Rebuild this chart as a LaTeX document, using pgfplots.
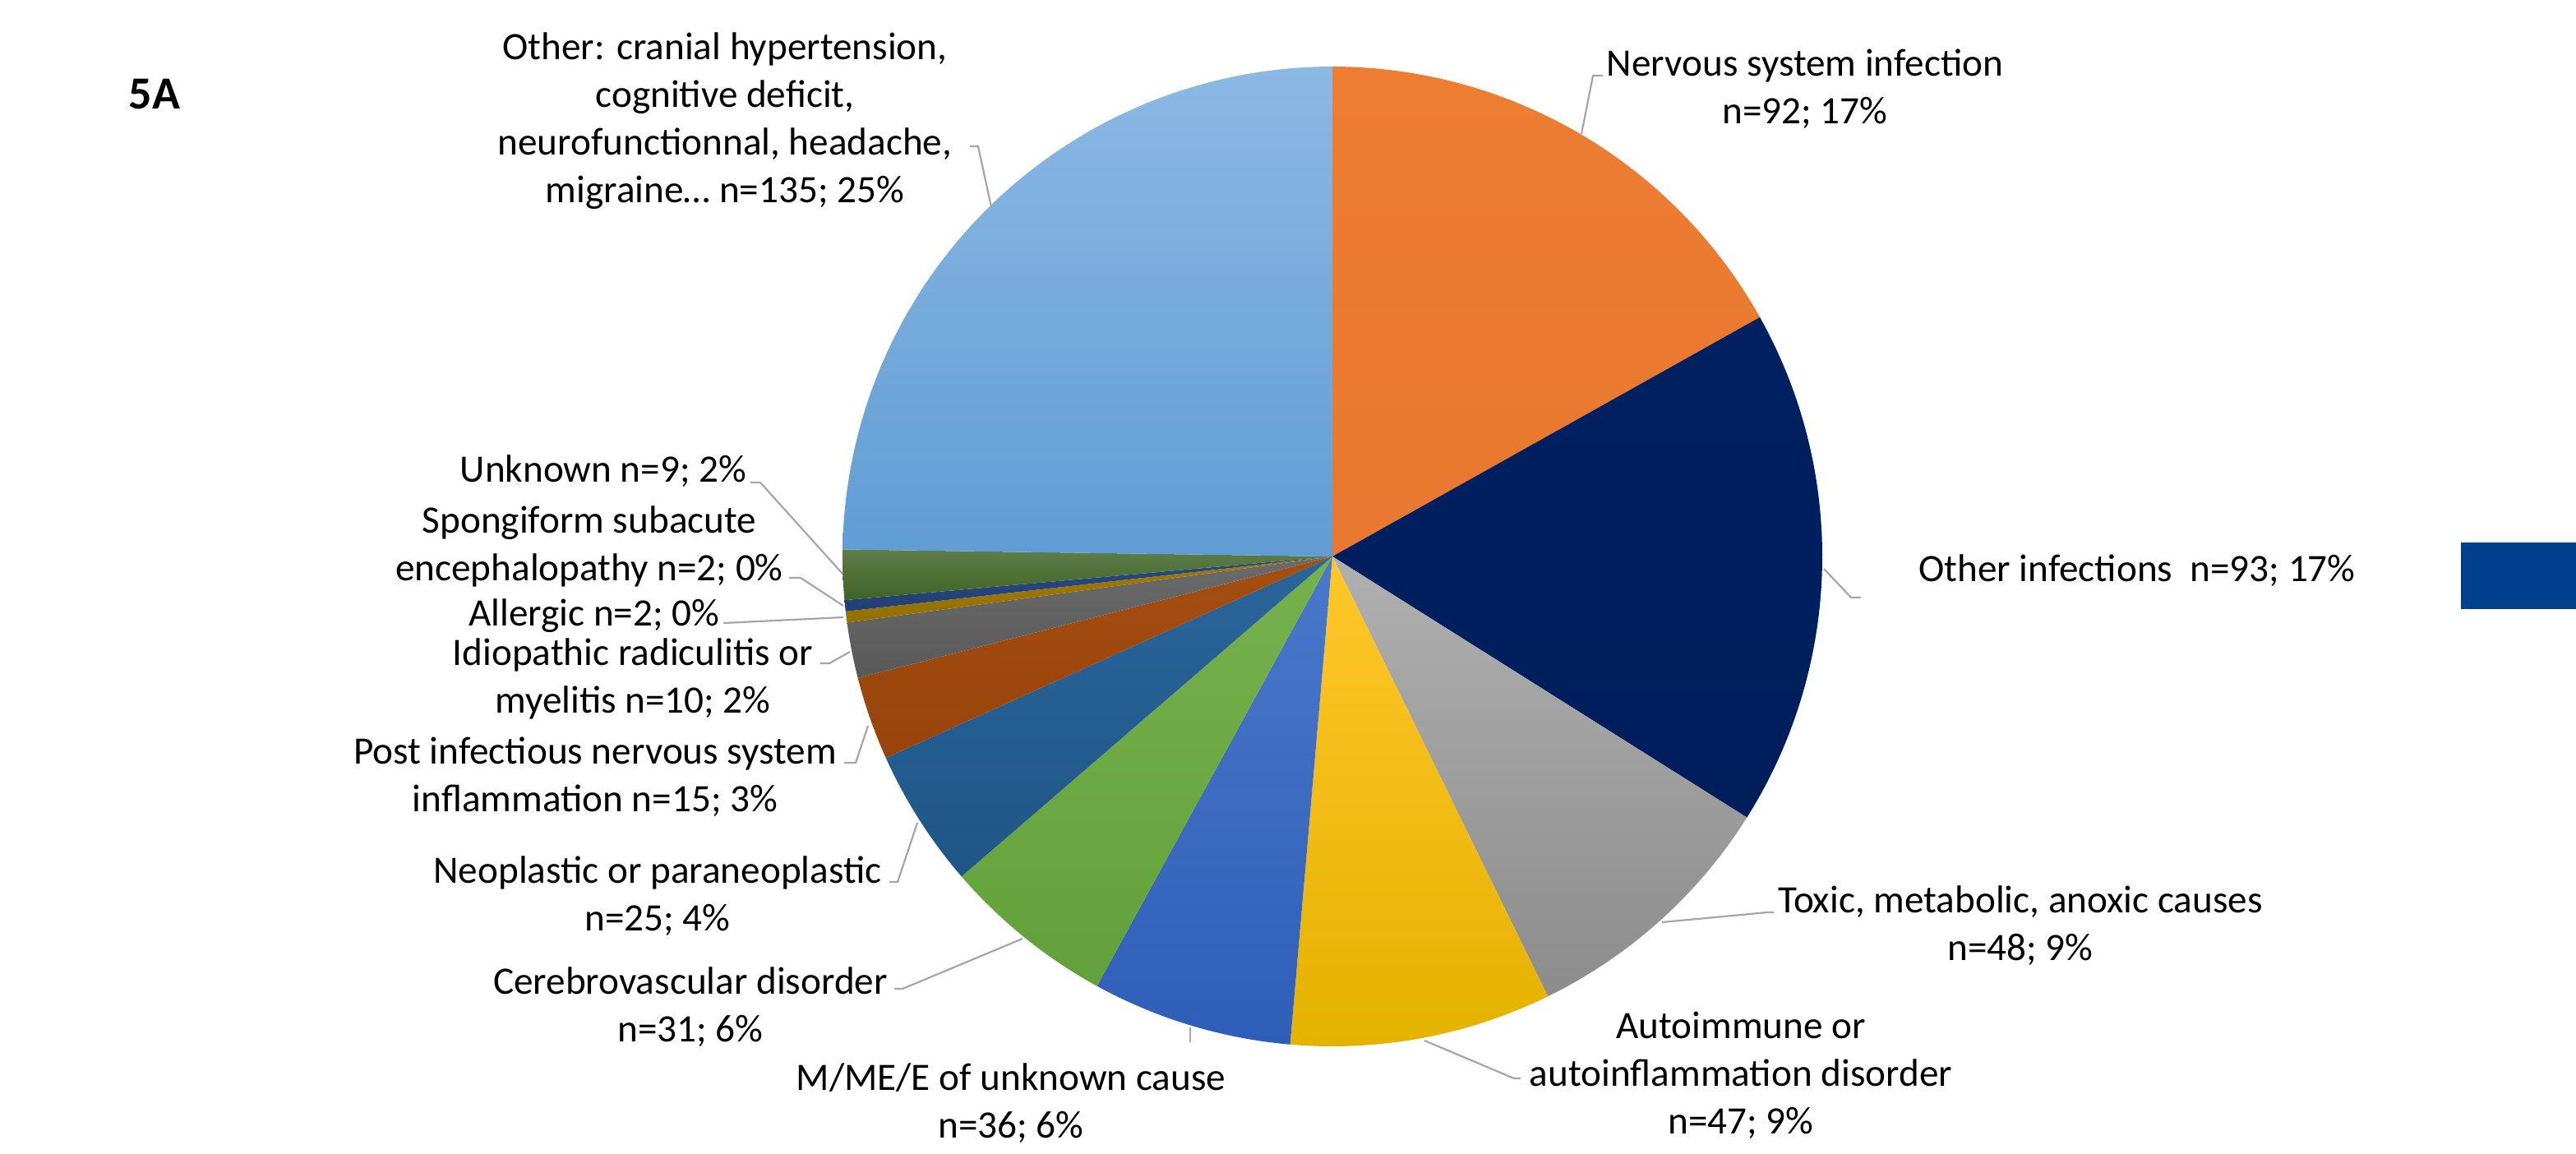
\documentclass[border=0pt]{standalone}
\usepackage{pgfplots}
\usepackage{pgfplotstable}
\pgfplotsset{compat=1.18}
\usepackage{fontspec}
\setmainfont{Carlito}

\definecolor{s1t}{HTML}{ED7D31}\definecolor{s1b}{HTML}{E97830}
\definecolor{s2t}{HTML}{002060}\definecolor{s2b}{HTML}{001E5C}
\definecolor{s3t}{HTML}{B0B0B0}\definecolor{s3b}{HTML}{8C8C8C}
\definecolor{s4t}{HTML}{FFC72A}\definecolor{s4b}{HTML}{E4B200}
\definecolor{s5t}{HTML}{4A78CA}\definecolor{s5b}{HTML}{2F5EB8}
\definecolor{s6t}{HTML}{76B24C}\definecolor{s6b}{HTML}{62A13A}
\definecolor{s7t}{HTML}{2A659A}\definecolor{s7b}{HTML}{1F5687}
\definecolor{s8t}{HTML}{A54E12}\definecolor{s8b}{HTML}{98430A}
\definecolor{s9t}{HTML}{6B6B6B}\definecolor{s9b}{HTML}{595959}
\definecolor{s10t}{HTML}{A17A05}\definecolor{s10b}{HTML}{947000}
\definecolor{s11t}{HTML}{2A4A80}\definecolor{s11b}{HTML}{223F72}
\definecolor{s12t}{HTML}{5E7E4A}\definecolor{s12b}{HTML}{3E6326}
\definecolor{s13t}{HTML}{8CB8E4}\definecolor{s13b}{HTML}{609DD4}
\definecolor{leader}{HTML}{A6A6A6}
\definecolor{keyblue}{HTML}{003F8C}

\newcommand\lf{\fontsize{11.8}{14.5}\selectfont}

\pgfplotstableread{
n col
92 s1
93 s2
48 s3
47 s4
36 s5
31 s6
25 s7
15 s8
10 s9
2 s10
2 s11
9 s12
135 s13
}\piedata

\begin{document}
\begin{tikzpicture}
\begin{axis}[
  width=783.5pt, height=350.75pt, scale only axis,
  xmin=0, xmax=3134, ymin=0, ymax=1403, y dir=reverse,
  hide axis, clip=false,
]
\pgfplotstablegetrowsof{\piedata}
\pgfmathtruncatemacro\nrows{\pgfplotsretval-1}
\def\tot{0}
\pgfplotsforeachungrouped \i in {0,...,\nrows}{%
  \pgfplotstablegetelem{\i}{n}\of\piedata
  \pgfmathsetmacro\tot{\tot+\pgfplotsretval}%
}
\def\cum{0}
\pgfplotsforeachungrouped \i in {0,...,\nrows}{%
  \pgfplotstablegetelem{\i}{n}\of\piedata \let\nval\pgfplotsretval
  \pgfplotstablegetelem{\i}{col}\of\piedata \let\cval\pgfplotsretval
  \pgfmathsetmacro\a{360*(\cum/\tot)}%
  \pgfmathsetmacro\cum{\cum+\nval}%
  \pgfmathsetmacro\b{360*(\cum/\tot)}%
  \edef\temp{\noexpand\addplot[draw=none, top color=\cval t, bottom color=\cval b, domain=\a:\b, samples=90] ({1621+596*sin(x)},{677-596*cos(x)}) -- (axis cs:1621,677) -- cycle;}%
  \temp
}

% legend key fragment
\fill[keyblue] (axis cs:2994,660) rectangle (axis cs:3134,741);

% panel label
\node[font=\fontsize{14}{16}\selectfont\bfseries, inner sep=0pt] at (axis cs:188,115) {5A};

% leader lines
\begin{scope}[leader, line width=0.55pt]
\draw (axis cs:1180,178) -- (axis cs:1190,178) -- (axis cs:1206,252);
\draw (axis cs:1950,92) -- (axis cs:1938,92) -- (axis cs:1924,163);
\draw (axis cs:2219,692) -- (axis cs:2252,727) -- (axis cs:2264,727);
\draw (axis cs:2022,1122) -- (axis cs:2150,1110) -- (axis cs:2158,1110);
\draw (axis cs:1733,1266) -- (axis cs:1842,1312) -- (axis cs:1850,1312);
\draw (axis cs:1448,1250) -- (axis cs:1448,1268);
\draw (axis cs:1244,1142) -- (axis cs:1098,1203) -- (axis cs:1088,1203);
\draw (axis cs:1116,1001) -- (axis cs:1092,1073) -- (axis cs:1082,1073);
\draw (axis cs:1056,883) -- (axis cs:1041,928) -- (axis cs:1027,928);
\draw (axis cs:1034,793) -- (axis cs:1009,807) -- (axis cs:998,807);
\draw (axis cs:1026,751) -- (axis cs:880,758);
\draw (axis cs:1026,737) -- (axis cs:974,703) -- (axis cs:960,703);
\draw (axis cs:1025,698) -- (axis cs:925,587) -- (axis cs:913,587);
\end{scope}

% labels
\begin{scope}[every node/.style={font=\lf, align=center, inner sep=0pt}]
\node at (axis cs:882,147) {Other: cranial hypertension,\\cognitive deficit,\\neurofunctionnal, headache,\\migraine… n=135; 25\%};
\node at (axis cs:2196,108) {Nervous system infection\\n=92; 17\%};
\node at (axis cs:2600,694) {Other infections~ n=93; 17\%};
\node at (axis cs:2458,1126) {Toxic, metabolic, anoxic causes\\n=48; 9\%};
\node at (axis cs:2118,1308) {Autoimmune or\\autoinflammation disorder\\n=47; 9\%};
\node at (axis cs:1230,1342) {M/ME/E of unknown cause\\n=36; 6\%};
\node at (axis cs:840,1225) {Cerebrovascular disorder\\n=31; 6\%};
\node at (axis cs:800,1090) {Neoplastic or paraneoplastic\\n=25; 4\%};
\node at (axis cs:724,945) {Post infectious nervous system\\inflammation n=15; 3\%};
\node at (axis cs:770,826) {Idiopathic radiculitis or\\myelitis n=10; 2\%};
\node[anchor=east] at (axis cs:876,749) {Allergic n=2; 0\%};
\node at (axis cs:717,665) {Spongiform subacute\\encephalopathy n=2; 0\%};
\node[anchor=east] at (axis cs:909,573) {Unknown n=9; 2\%};
\end{scope}
\end{axis}
\pgfresetboundingbox
\path (current axis.south west) rectangle (current axis.north east);
\end{tikzpicture}
\end{document}
